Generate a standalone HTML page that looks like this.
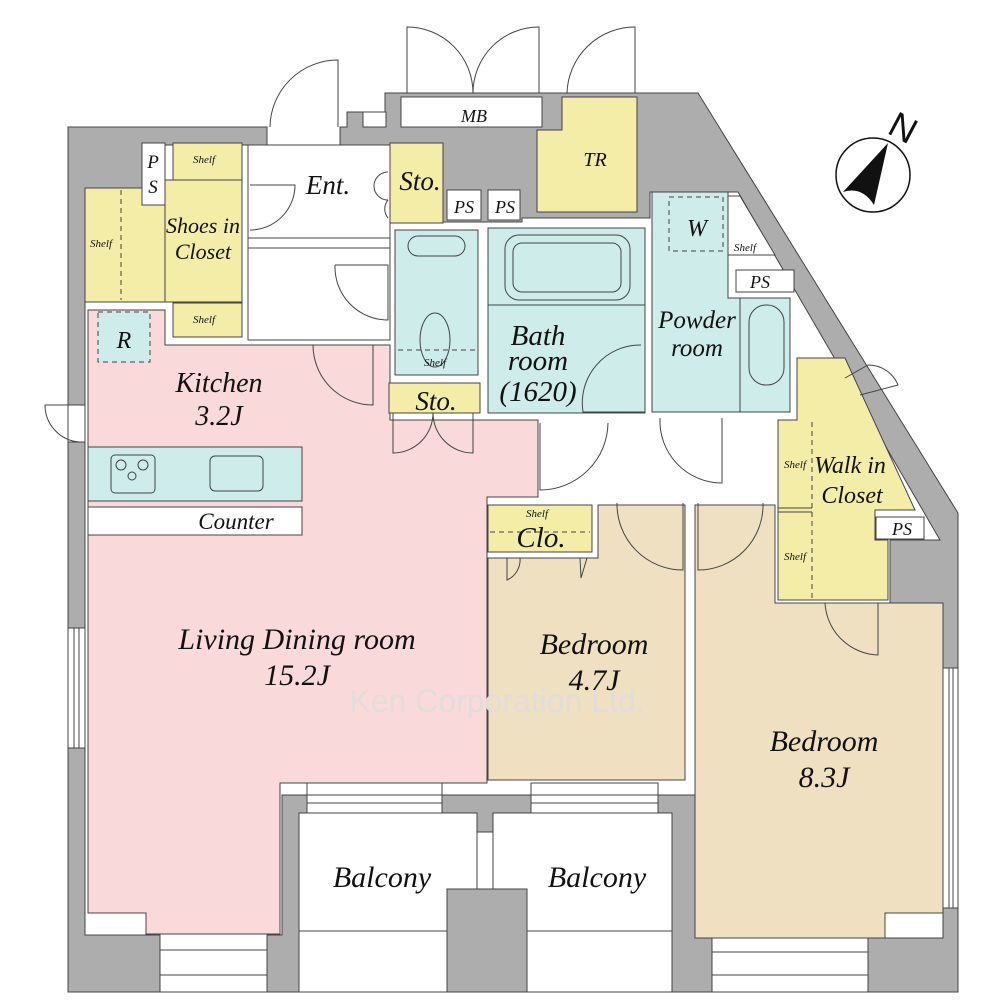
<!DOCTYPE html>
<html><head><meta charset="utf-8"><style>
html,body{margin:0;padding:0;background:#fff}
svg{display:block}
text{font-family:"Liberation Serif",serif;font-style:italic;fill:#111}
</style></head><body>
<svg width="1000" height="1000" viewBox="0 0 1000 1000" xmlns="http://www.w3.org/2000/svg">
<g stroke="#444" stroke-width="1">
<!-- outer grey -->
<path d="M68,127 L267,127 L267,145 L340,145 L340,127 L347,127 L347,112 L385,112 L385,93 L698,93 L958,513 L958,992 L68,992 Z" fill="#adadad"/>
<rect x="363" y="112" width="23" height="15" fill="#fff"/>
<rect x="401" y="97" width="141" height="30" fill="#fff"/>
<path d="M562,97 L637,97 L637,212 L537,212 L537,130 L562,130 Z" fill="#f3eda8"/>
<!-- interior white -->
<path d="M142,145 L390,145 L390,222 L443,222 L443,222 L522,222 L522,218 L650,218 L650,192 L738,192 L940,540 L890,540 L890,665 L943,665 L943,938 L695,938 L695,795 L282,795 L282,935 L85,935 L85,188 L142,188 Z" fill="#fff"/>
<rect x="447" y="190" width="34" height="30" fill="#fff"/>
<rect x="488" y="190" width="32" height="30" fill="#fff"/>
<rect x="390" y="143" width="53" height="80" fill="#f3eda8"/>
<!-- shoes closet -->
<rect x="85" y="188" width="80" height="114" fill="#f3eda8"/>
<rect x="165" y="180" width="77" height="122" fill="#f3eda8"/>
<rect x="173" y="143" width="69" height="37" fill="#f3eda8"/>
<rect x="173" y="303" width="69" height="34" fill="#f3eda8"/>
<rect x="142" y="143" width="23" height="62" fill="#fff"/>
<line x1="121" y1="190" x2="121" y2="300" stroke-dasharray="5,4"/>
<!-- entrance area lines -->
<rect x="248" y="145" width="142" height="195" fill="#fff"/>
<line x1="248" y1="238" x2="390" y2="238"/><line x1="248" y1="248" x2="390" y2="248"/>
<!-- living pink -->
<path d="M88,310 L165,310 L165,345 L390,345 L390,420 L538,420 L538,497 L487,497 L487,783 L280,783 L280,934 L146,934 L146,913 L88,913 Z" fill="#f9d9d9"/>
<rect x="98" y="312" width="52" height="50" fill="#cdecea" stroke-dasharray="5,4"/>
<!-- kitchen counter -->
<rect x="88" y="447" width="214" height="54" fill="#cdecea"/>
<rect x="88" y="507" width="214" height="28" fill="#fff"/>
<rect x="111" y="455" width="44" height="38" rx="4" fill="#cdecea"/>
<circle cx="121" cy="465" r="5" fill="none"/><circle cx="143" cy="465" r="5" fill="none"/><circle cx="132" cy="476" r="4" fill="none"/>
<rect x="210" y="456" width="53" height="35" rx="5" fill="#cdecea"/>
<!-- toilet, sto -->
<rect x="395" y="230" width="83" height="145" fill="#cdecea"/>
<rect x="408" y="236" width="57" height="20" rx="10" fill="none"/>
<ellipse cx="435" cy="340" rx="15" ry="27" fill="none"/>
<line x1="398" y1="350" x2="476" y2="350" stroke-dasharray="5,4"/>
<rect x="389" y="383" width="91" height="30" fill="#f3eda8"/>
<!-- bath -->
<rect x="488" y="228" width="157" height="185" fill="#cdecea"/>
<line x1="488" y1="305" x2="645" y2="305"/>
<rect x="505" y="235" width="125" height="65" rx="14" fill="none"/>
<rect x="513" y="243" width="108" height="49" rx="9" fill="none"/>
<!-- powder -->
<path d="M652,192 L728,192 L728,298 L790,298 L790,412 L652,412 Z" fill="#cdecea"/>
<line x1="740" y1="298" x2="740" y2="412"/>
<rect x="749" y="305" width="35" height="80" rx="17" fill="none"/>
<rect x="669" y="197" width="54" height="54" fill="none" stroke-dasharray="5,4"/>
<path d="M728,196 L740,196 L775,255 L728,255 Z" fill="#fff"/>
<rect x="736" y="270" width="58" height="22" fill="#fff"/>
<!-- WIC -->
<path d="M797,358 L845,358 L915,510 L875,510 L875,540 L888,540 L888,600 L778,600 L778,420 L797,420 Z" fill="#f3eda8"/>
<line x1="778" y1="508" x2="812" y2="508"/><line x1="778" y1="512" x2="812" y2="512"/>
<line x1="812" y1="422" x2="812" y2="598" stroke-dasharray="5,4"/>
<rect x="876" y="517" width="48" height="22" fill="#fff"/>
<!-- Clo and bedrooms -->
<rect x="488" y="505" width="104" height="47" fill="#f3eda8"/>
<line x1="490" y1="532" x2="590" y2="532" stroke-dasharray="5,4"/>
<path d="M488,558 L598,558 L598,505 L685,505 L685,780 L488,780 Z" fill="#efe0c1"/>
<path d="M695,505 L775,505 L775,603 L943,603 L943,913 L885,913 L885,938 L695,938 Z" fill="#efe0c1"/>
<!-- balconies -->
<rect x="299" y="813" width="178" height="179" fill="#fff"/>
<rect x="493" y="813" width="179" height="179" fill="#fff"/>
<rect x="477" y="832" width="16" height="160" fill="#fff"/>
<rect x="447" y="889" width="80" height="103" fill="#adadad"/>
<line x1="299" y1="931" x2="447" y2="931"/><line x1="527" y1="931" x2="672" y2="931"/>
<!-- windows -->
<g fill="#fff">
<rect x="307" y="783" width="135" height="30"/><rect x="531" y="783" width="127" height="30"/>
<rect x="160" y="934" width="107" height="58"/><rect x="712" y="938" width="156" height="54"/>
<rect x="68" y="628" width="17" height="120"/><rect x="943" y="668" width="15" height="240"/>
<rect x="68" y="405" width="17" height="37"/>
</g>
<g fill="none">
<line x1="307" y1="795" x2="442" y2="795"/><line x1="307" y1="803" x2="442" y2="803"/>
<line x1="531" y1="795" x2="658" y2="795"/><line x1="531" y1="803" x2="658" y2="803"/>
<line x1="160" y1="950" x2="267" y2="950"/><line x1="160" y1="975" x2="267" y2="975"/>
<line x1="712" y1="952" x2="868" y2="952"/><line x1="712" y1="975" x2="868" y2="975"/>
<line x1="74" y1="628" x2="74" y2="748"/><line x1="79" y1="628" x2="79" y2="748"/>
<line x1="949" y1="668" x2="949" y2="908"/><line x1="953" y1="668" x2="953" y2="908"/>
<!-- doors -->
<path d="M338,127 V60 A68,68 0 0,0 270,127"/>
<path d="M407,93 V27 A66,66 0 0,1 473,93 A66,66 0 0,1 539,27 V93"/>
<path d="M635,93 V27 A68,68 0 0,0 567,93"/>
<path d="M250,185 H295 A45,45 0 0,1 250,230"/>
<path d="M388,172 A14,14 0 0,0 388,200 M388,200 A14,14 0 0,0 388,218" />
<path d="M335,265 H388 V320 A53,53 0 0,1 335,265"/>
<path d="M313,345 A60,60 0 0,0 373,405 V345"/>
<path d="M393,413 V453 A40,40 0 0,0 433,413 A40,40 0 0,0 473,453 V413"/>
<path d="M540,423 V490 A68,68 0 0,0 608,423"/>
<path d="M722,418 V483 A62,62 0 0,1 660,418"/>
<path d="M683,503 V570 A66,66 0 0,1 617,503"/>
<path d="M698,503 V570 A65,65 0 0,0 763,503"/>
<path d="M645,412 H583 A58,58 0 0,1 641,345"/>
<path d="M825,603 A55,55 0 0,0 878,655 V603"/>
<path d="M507,558 V580 A22,22 0 0,0 520,558 M580,558 L587,558 L581,578 Z"/>
<path d="M85,405 H45 A37,37 0 0,0 80,442"/>
<path d="M845,378 L868,365 A32,32 0 0,1 898,385 L860,395"/>
</g>
</g>
<!-- compass -->
<circle cx="873" cy="175" r="37" fill="#fff" stroke="#111" stroke-width="1.5"/>
<path d="M888,143 L843,192 Q862,186 874,205 Z" fill="#111"/>
<text x="903" y="140" font-size="36" transform="rotate(28 903 128)" text-anchor="middle" style="font-family:'Liberation Sans',sans-serif;font-style:normal">N</text>
<!-- watermark -->
<text x="497" y="712" font-size="32" text-anchor="middle" style="font-family:'Liberation Sans',sans-serif;font-style:normal;fill:#e2dcdc">Ken Corporation Ltd.</text>
<!-- labels -->
<g text-anchor="middle">
<text x="474" y="122" font-size="18">MB</text>
<text x="595" y="166" font-size="20">TR</text>
<text x="153" y="168" font-size="19">P</text><text x="153" y="193" font-size="19">S</text>
<text x="204" y="163" font-size="11">Shelf</text>
<text x="204" y="323" font-size="11">Shelf</text>
<text x="101" y="247" font-size="11">Shelf</text>
<text x="203" y="233" font-size="22">Shoes in</text>
<text x="203" y="259" font-size="22">Closet</text>
<text x="328" y="194" font-size="27">Ent.</text>
<text x="420" y="190" font-size="27">Sto.</text>
<text x="464" y="213" font-size="18">PS</text>
<text x="505" y="213" font-size="18">PS</text>
<text x="124" y="348" font-size="24">R</text>
<text x="435" y="366" font-size="11">Shelf</text>
<text x="219" y="392" font-size="28">Kitchen</text>
<text x="219" y="425" font-size="28">3.2J</text>
<text x="436" y="410" font-size="27">Sto.</text>
<text x="538" y="345" font-size="29">Bath</text>
<text x="538" y="370" font-size="29">room</text>
<text x="538" y="401" font-size="29">(1620)</text>
<text x="697" y="236" font-size="24">W</text>
<text x="745" y="251" font-size="11">Shelf</text>
<text x="760" y="288" font-size="18">PS</text>
<text x="697" y="328" font-size="25">Powder</text>
<text x="697" y="356" font-size="25">room</text>
<text x="795" y="468" font-size="11">Shelf</text>
<text x="795" y="560" font-size="11">Shelf</text>
<text x="850" y="473" font-size="24">Walk in</text>
<text x="852" y="503" font-size="24">Closet</text>
<text x="902" y="535" font-size="18">PS</text>
<text x="236" y="529" font-size="23">Counter</text>
<text x="537" y="517" font-size="11">Shelf</text>
<text x="541" y="547" font-size="29">Clo.</text>
<text x="297" y="649" font-size="30">Living Dining room</text>
<text x="297" y="685" font-size="30">15.2J</text>
<text x="594" y="654" font-size="30">Bedroom</text>
<text x="594" y="690" font-size="30">4.7J</text>
<text x="824" y="751" font-size="30">Bedroom</text>
<text x="824" y="787" font-size="30">8.3J</text>
<text x="382" y="887" font-size="30">Balcony</text>
<text x="597" y="887" font-size="30">Balcony</text>
</g>
</svg>
</body></html>
